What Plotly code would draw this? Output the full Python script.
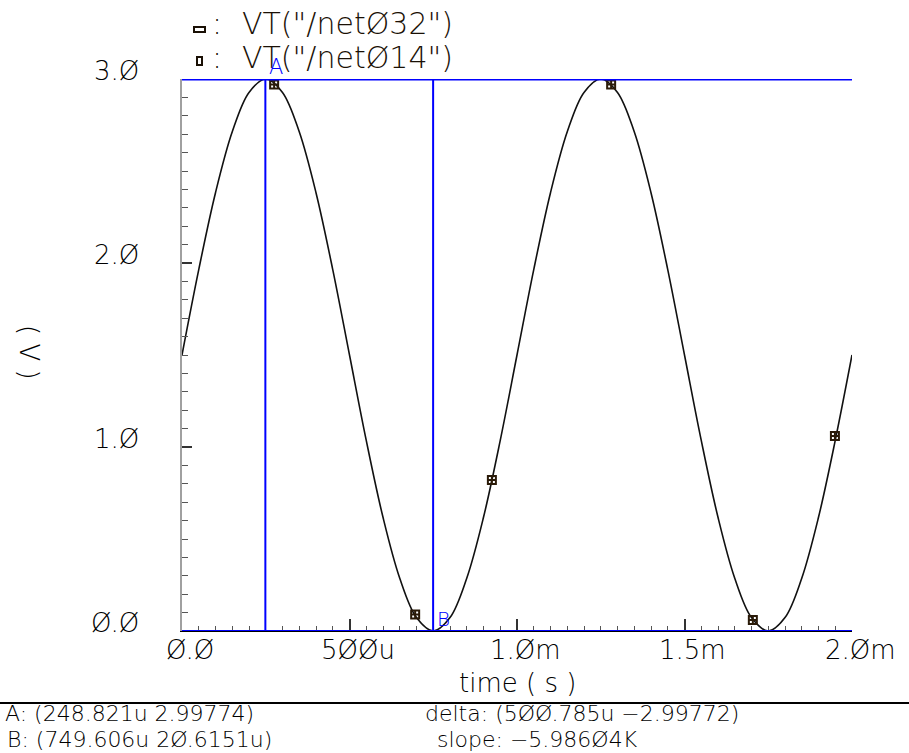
import plotly.graph_objects as go

# ---------------- data ----------------
t_ms = [0.00, 0.05, 0.10, 0.15, 0.20, 0.25, 0.30, 0.35, 0.40, 0.45,
        0.50, 0.55, 0.60, 0.65, 0.70, 0.75, 0.80, 0.85, 0.90, 0.95,
        1.00, 1.05, 1.10, 1.15, 1.20, 1.25, 1.30, 1.35, 1.40, 1.45,
        1.50, 1.55, 1.60, 1.65, 1.70, 1.75, 1.80, 1.85, 1.90, 1.95, 2.00]
v_net032 = [1.500, 1.964, 2.382, 2.713, 2.927, 3.000, 2.927, 2.713, 2.382, 1.964,
            1.500, 1.036, 0.618, 0.287, 0.073, 0.000, 0.073, 0.287, 0.618, 1.036,
            1.500, 1.964, 2.382, 2.713, 2.927, 3.000, 2.927, 2.713, 2.382, 1.964,
            1.500, 1.036, 0.618, 0.287, 0.073, 0.000, 0.073, 0.287, 0.618, 1.036, 1.500]

marker_t_ms = [0.275, 0.696, 0.925, 1.281, 1.704, 1.949]
marker_v_net014 = [2.97, 0.09, 0.82, 2.97, 0.06, 1.06]

cursor_a_t = 0.248821
cursor_a_v = 2.99774
cursor_b_t = 0.749606
cursor_b_v = 20.6151e-6

x_tick_vals = [0.0, 0.5, 1.0, 1.5, 2.0]
x_tick_text = ["Ø.Ø", "5ØØu", "1.Øm", "1.5m", "2.Øm"]
y_tick_vals = [0.0, 1.0, 2.0, 3.0]
y_tick_text = ["Ø.Ø", "1.Ø", "2.Ø", "3.Ø"]

legend_names = ['VT("/netØ32")', 'VT("/netØ14")']
x_title = "time ( s )"
y_title = "( V )"
readout_a = "A: (248.821u 2.99774)"
readout_b = "B: (749.606u 2Ø.6151u)"
readout_delta = "delta: (5ØØ.785u −2.99772)"
readout_slope = "slope: −5.986Ø4K"

# ---------------- geometry ----------------
W, H = 909, 753
L, R, T, B = 182, 852, 79, 631


def px(x):
    return (x - L) / (R - L)


def py(y):
    return (B - y) / (B - T)


FONT = "DejaVu Sans"
WT = 200
TXT = "#000000"
LEG = "#1a1005"
BLUE = "#0000ff"


def f(size, color=TXT):
    return dict(family=FONT, size=size, color=color, weight=WT)


fig = go.Figure()
fig.add_trace(go.Scatter(
    x=t_ms, y=v_net032, mode="lines", name=legend_names[0],
    line=dict(color="#111111", width=1.6, shape="spline", smoothing=1.0),
    showlegend=False, cliponaxis=False))
fig.add_trace(go.Scatter(
    x=marker_t_ms, y=marker_v_net014, mode="markers", name=legend_names[1],
    marker=dict(symbol="square-cross-open", size=8, color="#2a1a08",
                line=dict(width=2, color="#2a1a08")),
    showlegend=False, cliponaxis=False))

shapes = []
shapes.append(dict(type="line", xref="x", yref="paper", x0=cursor_a_t, x1=cursor_a_t,
                   y0=0, y1=1, line=dict(color=BLUE, width=2)))
shapes.append(dict(type="line", xref="x", yref="paper", x0=cursor_b_t, x1=cursor_b_t,
                   y0=0, y1=1, line=dict(color=BLUE, width=2)))
shapes.append(dict(type="line", xref="paper", yref="y", x0=0, x1=1,
                   y0=cursor_a_v, y1=cursor_a_v, line=dict(color=BLUE, width=2)))
shapes.append(dict(type="line", xref="paper", yref="y", x0=0, x1=1,
                   y0=cursor_b_v, y1=cursor_b_v, line=dict(color=BLUE, width=2)))
shapes.append(dict(type="line", xref="paper", yref="paper", x0=px(0), x1=px(W),
                   y0=py(703), y1=py(703), line=dict(color="#000000", width=2)))
shapes.append(dict(type="rect", xref="paper", yref="paper", x0=px(194), x1=px(205),
                   y0=py(27), y1=py(32), line=dict(color=LEG, width=2)))
shapes.append(dict(type="rect", xref="paper", yref="paper", x0=px(197), x1=px(202),
                   y0=py(57), y1=py(65), line=dict(color=LEG, width=2)))

ann = []
for v, s in zip(y_tick_vals, y_tick_text):
    ann.append(dict(x=px(141), y=v, xref="paper", yref="y", text=s, showarrow=False,
                    xanchor="right", yanchor="middle", yshift=8.5, font=f(26)))
for v, s in zip(x_tick_vals, x_tick_text):
    ann.append(dict(x=v, y=py(650), xref="x", yref="paper", text=s, showarrow=False,
                    xanchor="center", yanchor="middle", xshift=8, font=f(26)))
ann.append(dict(x=0.5, y=py(683), xref="paper", yref="paper", text=x_title,
                showarrow=False, xanchor="center", yanchor="middle", font=f(26)))
ann.append(dict(x=px(29), y=py(352), xref="paper", yref="paper", text=y_title,
                showarrow=False, xanchor="center", yanchor="middle", textangle=90,
                font=f(26)))
for name, yc in zip(legend_names, [24, 58]):
    ann.append(dict(x=px(210), y=py(yc), xref="paper", yref="paper", text=":",
                    showarrow=False, xanchor="left", yanchor="middle", font=f(30, LEG)))
    ann.append(dict(x=px(240), y=py(yc), xref="paper", yref="paper", text=name,
                    showarrow=False, xanchor="left", yanchor="middle", font=f(30, LEG)))
ann.append(dict(x=cursor_a_t, y=cursor_a_v, xref="x", yref="y", text="A",
                showarrow=False, xanchor="left", yanchor="bottom", xshift=2, yshift=-2,
                font=f(21, BLUE)))
ann.append(dict(x=cursor_b_t, y=cursor_b_v, xref="x", yref="y", text="B",
                showarrow=False, xanchor="left", yanchor="bottom", xshift=2, yshift=-2,
                font=f(20, BLUE)))
for s, x0, yc in [(readout_a, 4, 714), (readout_b, 6, 740),
                  (readout_delta, 424, 714), (readout_slope, 436, 740)]:
    ann.append(dict(x=px(x0), y=py(yc), xref="paper", yref="paper", text=s,
                    showarrow=False, xanchor="left", yanchor="middle", font=f(22),
                    borderpad=0))

fig.update_layout(
    width=W, height=H, autosize=False,
    margin=dict(l=L, r=W - R, t=T, b=H - B, pad=0),
    paper_bgcolor="white", plot_bgcolor="white",
    shapes=shapes, annotations=ann, showlegend=False,
    xaxis=dict(range=[0, 2.0], showgrid=False, zeroline=False, showticklabels=False,
               showline=True, linecolor="#000000", linewidth=1,
               ticks="inside", tickvals=x_tick_vals, ticklen=12, tickwidth=1.5,
               tickcolor="#333333",
               minor=dict(ticks="inside", dtick=0.05, ticklen=5, tickwidth=1,
                          tickcolor="#555555", showgrid=False)),
    yaxis=dict(range=[0, 3.0], showgrid=False, zeroline=False, showticklabels=False,
               showline=True, linecolor="#a0a0a0", linewidth=2,
               ticks="inside", tickvals=y_tick_vals, ticklen=10, tickwidth=1.5,
               tickcolor="#333333",
               minor=dict(ticks="inside", dtick=0.1, ticklen=6, tickwidth=1,
                          tickcolor="#555555", showgrid=False)),
)

fig.write_html("out.html")
